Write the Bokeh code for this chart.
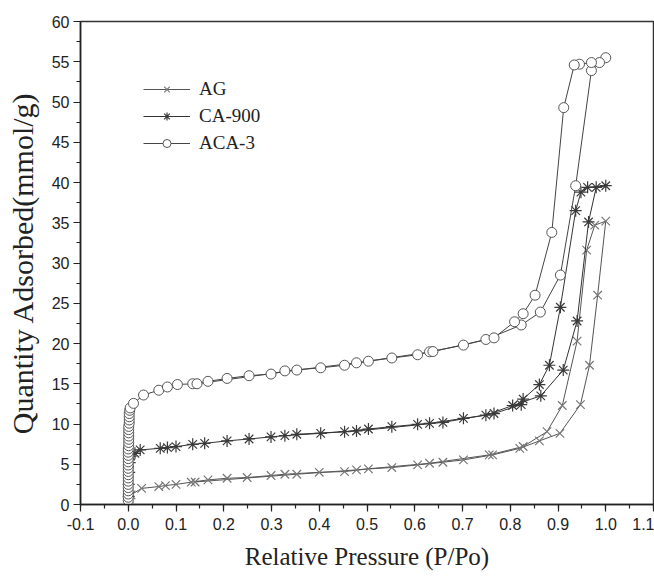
from bokeh.plotting import figure
from bokeh.models import Range1d, SingleIntervalTicker, NumeralTickFormatter, Legend, LegendItem
from bokeh.embed import file_html
from bokeh.resources import INLINE

# ---- data ----
ag_x = [0.001, 0.002, 0.006, 0.028, 0.064, 0.078, 0.100, 0.132, 0.167, 0.207, 0.249, 0.299, 0.328,
        0.400, 0.453, 0.503, 0.552, 0.606, 0.659, 0.702, 0.763, 0.820, 0.861, 0.904, 0.947, 0.966,
        0.983, 1.000,
        0.977, 0.960, 0.940, 0.909, 0.877, 0.827, 0.756, 0.631, 0.478, 0.353, 0.140]
ag_y = [0.3, 0.7, 1.2, 2.0, 2.23, 2.35, 2.5, 2.77, 3.06, 3.26, 3.35, 3.6, 3.76,
        4.0, 4.09, 4.42, 4.59, 4.92, 5.25, 5.54, 6.16, 6.98, 7.9, 8.84, 12.4, 17.3,
        26.0, 35.2,
        34.7, 31.6, 20.3, 12.3, 9.05, 7.2, 6.16, 5.12, 4.3, 3.76, 2.8]

ca_x = [0.001, 0.001, 0.002, 0.003, 0.005, 0.014, 0.025, 0.067, 0.082, 0.100, 0.135, 0.160, 0.207,
        0.253, 0.299, 0.328, 0.403, 0.453, 0.503, 0.552, 0.606, 0.631, 0.702, 0.749, 0.805, 0.864,
        0.911, 0.940, 0.964, 0.980, 1.000,
        0.962, 0.948, 0.937, 0.905, 0.882, 0.861, 0.827, 0.823, 0.766, 0.659, 0.478, 0.353]
ca_y = [1.0, 2.5, 4.0, 5.2, 6.0, 6.36, 6.78, 6.98, 7.07, 7.19, 7.47, 7.6, 7.9,
        8.14, 8.4, 8.55, 8.84, 9.05, 9.38, 9.67, 9.96, 10.08, 10.7, 11.1, 12.3, 13.5,
        16.7, 22.8, 35.1, 39.4, 39.6,
        39.4, 38.8, 36.5, 24.5, 17.3, 14.9, 13.1, 12.4, 11.3, 10.2, 9.13, 8.72]

aca_x = [0.000, 0.000, 0.000, 0.000, 0.000, 0.000, 0.000, 0.000, 0.000, 0.000,
         0.000, 0.000, 0.000, 0.000, 0.000, 0.000, 0.000, 0.001, 0.001, 0.001,
         0.001, 0.001, 0.001, 0.001, 0.002, 0.002, 0.002, 0.002, 0.003,
         0.004, 0.011, 0.032, 0.064, 0.082, 0.103, 0.135, 0.167, 0.207, 0.253, 0.299, 0.328,
         0.403, 0.453, 0.503, 0.552, 0.606, 0.631, 0.702, 0.749, 0.823, 0.863, 0.905, 0.937,
         0.970, 1.000,
         0.987, 0.970, 0.945, 0.934, 0.912, 0.887, 0.852, 0.827, 0.809, 0.766, 0.638, 0.478,
         0.353, 0.144]
aca_y = [0.5, 0.9, 1.3, 1.7, 2.1, 2.5, 2.9, 3.3, 3.7, 4.1,
         4.5, 4.9, 5.3, 5.7, 6.1, 6.5, 6.9, 7.3, 7.7, 8.1,
         8.5, 8.9, 9.3, 9.7, 10.1, 10.5, 10.9, 11.3, 11.7,
         12.0, 12.56, 13.6, 14.2, 14.6, 14.9, 15.0, 15.3, 15.66, 16.0, 16.2, 16.6,
         16.98, 17.3, 17.8, 18.2, 18.6, 18.97, 19.8, 20.5, 22.3, 23.9, 28.5, 39.6,
         53.9, 55.5,
         54.9, 54.9, 54.7, 54.6, 49.3, 33.8, 26.0, 23.7, 22.7, 20.7, 19.0, 17.6,
         16.7, 15.0]

x_ticks_step = 0.1
y_ticks_step = 5

p = figure(width=654, height=579, output_backend="svg", toolbar_location=None,
           x_range=Range1d(-0.1, 1.1), y_range=Range1d(0, 60),
           min_border_left=80, min_border_right=1, min_border_top=21, min_border_bottom=75)

p.background_fill_color = "white"
p.border_fill_color = "white"
p.outline_line_color = "#333333"
p.outline_line_width = 1.5
p.xgrid.visible = False
p.ygrid.visible = False

for ax in (p.xaxis[0], p.yaxis[0]):
    ax.axis_line_color = "#222222"
    ax.axis_line_width = 1.5
    ax.major_tick_line_color = "#222222"
    ax.minor_tick_line_color = "#222222"
    ax.major_tick_line_width = 1.2
    ax.minor_tick_line_width = 1.2
    ax.major_tick_in = 0
    ax.major_tick_out = 7
    ax.minor_tick_in = 0
    ax.minor_tick_out = 4
    ax.major_label_text_font = "Liberation Sans"
    ax.major_label_text_font_size = "16px"
    ax.major_label_text_color = "#222222"
    ax.axis_label_text_font = "Liberation Serif"
    ax.axis_label_text_font_style = "normal"
    ax.axis_label_text_color = "#222222"

p.xaxis.ticker = SingleIntervalTicker(interval=x_ticks_step, num_minor_ticks=2)
p.yaxis.ticker = SingleIntervalTicker(interval=y_ticks_step, num_minor_ticks=2)
p.xaxis.formatter = NumeralTickFormatter(format="0.0")
p.xaxis.axis_label = "Relative Pressure (P/Po)"
p.yaxis.axis_label = "Quantity Adsorbed(mmol/g)"
p.xaxis.axis_label_text_font_size = "25px"
p.yaxis.axis_label_text_font_size = "30px"
p.xaxis.major_label_standoff = 6
p.yaxis.major_label_standoff = 4
p.xaxis.axis_label_standoff = 10
p.yaxis.axis_label_standoff = 10

l_ag = p.line(ag_x, ag_y, line_color="#555555", line_width=1)
m_ag = p.scatter(ag_x, ag_y, marker="x", size=12, line_color="#777777", line_width=1.2)
l_ca = p.line(ca_x, ca_y, line_color="#333333", line_width=1)
m_ca = p.scatter(ca_x, ca_y, marker="asterisk", size=12, line_color="#3a3a3a", line_width=1.2)
l_aca = p.line(aca_x, aca_y, line_color="#444444", line_width=1)
m_aca = p.scatter(aca_x, aca_y, marker="circle", size=10, line_color="#555555",
                  fill_color="white", line_width=1)

legend = Legend(items=[
    LegendItem(label="AG", renderers=[l_ag, m_ag]),
    LegendItem(label="CA-900", renderers=[l_ca, m_ca]),
    LegendItem(label="ACA-3", renderers=[l_aca, m_aca]),
], location=(63, 350))
legend.border_line_color = None
legend.background_fill_alpha = 0
legend.padding = 0
legend.margin = 0
legend.spacing = 5
legend.glyph_width = 47
legend.glyph_height = 20
legend.label_height = 20
legend.label_standoff = 9
legend.label_text_font = "Liberation Serif"
legend.label_text_font_size = "19px"
legend.label_text_color = "#222222"
p.add_layout(legend, "center")

open("out.html", "w").write(file_html(p, INLINE))
